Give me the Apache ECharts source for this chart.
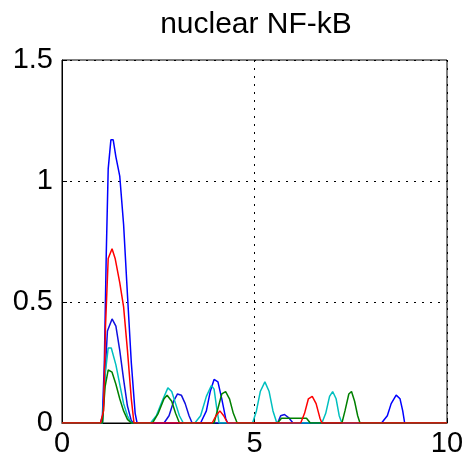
<!DOCTYPE html>
<html>
<head>
<meta charset="utf-8">
<script src="https://cdn.jsdelivr.net/npm/echarts@6/dist/echarts.min.js"></script>
<style>
  html, body { margin: 0; padding: 0; background: #fff; }
  #chart { width: 467px; height: 463px; }
</style>
</head>
<body>
<div id="chart"></div>
<script>
// Nuclear NF-kB traces for individual cells, [time, level] pairs
const blueA = [[0,0],[1.0,0],[1.05,0.03],[1.1,0.25],[1.15,0.7],[1.2,1.05],[1.27,1.17],[1.33,1.17],[1.4,1.1],[1.5,1.02],[1.6,0.82],[1.7,0.53],[1.8,0.25],[1.9,0.04],[1.95,0],
  [3.6,0],[3.75,0.05],[3.85,0.13],[3.95,0.18],[4.05,0.17],[4.15,0.1],[4.25,0.02],[4.3,0],
  [8.3,0],[8.45,0.03],[8.55,0.08],[8.68,0.115],[8.78,0.1],[8.85,0.05],[8.9,0],[10,0]];
const blueB = [[0,0],[1.05,0],[1.1,0.15],[1.18,0.38],[1.3,0.43],[1.4,0.4],[1.5,0.3],[1.6,0.18],[1.7,0.07],[1.8,0.01],[1.85,0],
  [2.65,0],[2.78,0.03],[2.9,0.09],[3.0,0.12],[3.1,0.115],[3.2,0.08],[3.3,0.03],[3.38,0],
  [5.6,0],[5.68,0.03],[5.78,0.035],[5.9,0.02],[6.0,0],[10,0]];
const cyanA = [[0,0],[1.05,0],[1.12,0.2],[1.2,0.31],[1.28,0.31],[1.4,0.24],[1.5,0.16],[1.6,0.08],[1.7,0.03],[1.8,0],
  [2.3,0],[2.45,0.03],[2.6,0.09],[2.75,0.145],[2.85,0.13],[2.95,0.08],[3.05,0.03],[3.15,0],
  [3.45,0],[3.6,0.03],[3.75,0.11],[3.88,0.155],[3.95,0.14],[4.02,0.06],[4.08,0],
  [4.95,0],[5.05,0.05],[5.15,0.13],[5.27,0.17],[5.38,0.13],[5.48,0.05],[5.58,0],
  [6.75,0],[6.85,0.04],[6.95,0.11],[7.03,0.13],[7.12,0.1],[7.2,0.03],[7.27,0],[10,0]];
const greenA = [[0,0],[1.05,0],[1.12,0.15],[1.2,0.22],[1.3,0.21],[1.4,0.16],[1.5,0.1],[1.6,0.05],[1.7,0.015],[1.8,0],
  [2.35,0],[2.5,0.04],[2.65,0.1],[2.73,0.115],[2.85,0.09],[2.95,0.04],[3.05,0],
  [3.95,0],[4.05,0.06],[4.15,0.12],[4.25,0.13],[4.35,0.1],[4.45,0.04],[4.55,0],
  [5.6,0],[5.7,0.02],[6.35,0.02],[6.45,0],
  [7.27,0],[7.35,0.05],[7.45,0.12],[7.52,0.13],[7.6,0.09],[7.68,0.03],[7.74,0],[10,0]];
const redA = [[0,0],[1.0,0],[1.08,0.05],[1.13,0.4],[1.2,0.68],[1.3,0.72],[1.38,0.68],[1.5,0.58],[1.6,0.48],[1.7,0.3],[1.8,0.1],[1.87,0],
  [3.9,0],[4.0,0.03],[4.1,0.05],[4.2,0.03],[4.3,0],
  [6.2,0],[6.3,0.04],[6.4,0.1],[6.5,0.11],[6.6,0.08],[6.7,0.02],[6.75,0],[10,0]];

const xTicks = [0, 5, 10];
const yTicks = [0, 0.5, 1, 1.5];
const titleText = 'nuclear NF-kB';

const traces = [
  { data: blueA, color: '#0000ff' },
  { data: blueB, color: '#1010e0' },
  { data: cyanA, color: '#00bfbf' },
  { data: greenA, color: '#008000' },
  { data: redA, color: '#ff0000' }
];

const font = '"Liberation Sans", Arial, Helvetica, sans-serif';
const chart = echarts.init(document.getElementById('chart'), null, { renderer: 'canvas' });
chart.setOption({
  animation: false,
  backgroundColor: '#ffffff',
  title: {
    text: titleText,
    left: 251, top: 5, textAlign: 'center',
    textStyle: { fontFamily: font, fontSize: 30, fontWeight: 'normal', color: '#000' }
  },
  grid: { left: 62, right: 20, top: 60, bottom: 40, show: true, borderColor: '#000', borderWidth: 1, backgroundColor: 'transparent' },
  xAxis: {
    type: 'value', min: xTicks[0], max: xTicks[xTicks.length - 1], interval: xTicks[1] - xTicks[0],
    axisLine: { lineStyle: { color: '#000', width: 1 } },
    axisTick: { inside: true, length: 5, lineStyle: { color: '#000' } },
    axisLabel: { fontFamily: font, fontSize: 29, color: '#000', margin: 6 },
    splitLine: { show: true, lineStyle: { type: [2, 6], color: '#000', width: 1 } }
  },
  yAxis: {
    type: 'value', min: yTicks[0], max: yTicks[yTicks.length - 1], interval: yTicks[1] - yTicks[0],
    axisLine: { show: true, lineStyle: { color: '#000', width: 1 } },
    axisTick: { show: true, inside: true, length: 5, lineStyle: { color: '#000' } },
    axisLabel: { fontFamily: font, fontSize: 29, color: '#000', margin: 9 },
    splitLine: { show: true, lineStyle: { type: [2, 6], color: '#000', width: 1 } }
  },
  series: traces.map(t => ({
    type: 'line', data: t.data, showSymbol: false, symbol: 'none',
    lineStyle: { color: t.color, width: 1.5 }, itemStyle: { color: t.color }
  }))
});
</script>
</body>
</html>
